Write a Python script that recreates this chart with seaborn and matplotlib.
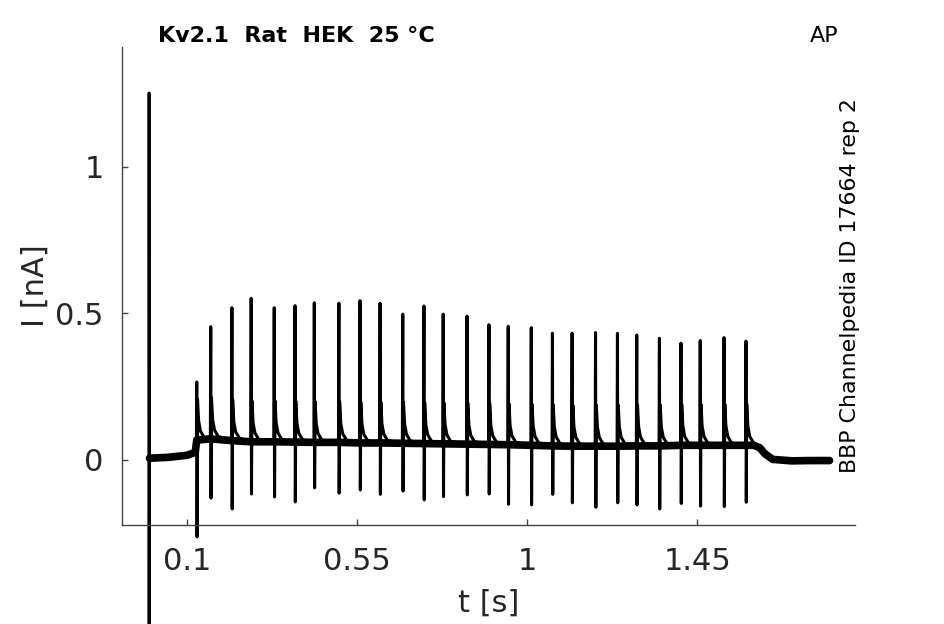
import numpy as np
import pandas as pd
import seaborn as sns
import matplotlib.pyplot as plt

# values (t in s, I in nA)
spike_t = [0.126, 0.163, 0.219, 0.270, 0.331, 0.386, 0.437, 0.502, 0.558,
           0.611, 0.671, 0.727, 0.778, 0.841, 0.899, 0.950, 1.011, 1.067,
           1.119, 1.181, 1.239, 1.290, 1.350, 1.407, 1.458, 1.521, 1.579]
spike_peak = [0.266, 0.454, 0.519, 0.551, 0.519, 0.526, 0.536, 0.534, 0.543,
              0.534, 0.497, 0.525, 0.497, 0.490, 0.461, 0.456, 0.451, 0.432,
              0.432, 0.434, 0.432, 0.426, 0.415, 0.398, 0.407, 0.417, 0.405]
spike_trough = [-0.262, -0.130, -0.167, -0.116, -0.126, -0.143, -0.095, -0.113, -0.102,
                -0.117, -0.106, -0.136, -0.125, -0.119, -0.116, -0.151, -0.153, -0.117,
                -0.146, -0.161, -0.146, -0.153, -0.167, -0.148, -0.157, -0.159, -0.144]
spike_level = [0.068, 0.072, 0.066, 0.062, 0.062, 0.061, 0.060, 0.060, 0.058,
               0.058, 0.057, 0.056, 0.055, 0.054, 0.053, 0.052, 0.050, 0.048,
               0.047, 0.047, 0.047, 0.048, 0.048, 0.050, 0.050, 0.050, 0.050]

# decay after each spike: time after spike, height above the level
fin_dt = [0.002, 0.005, 0.010, 0.020]
fin_di = [0.140, 0.065, 0.030, 0.008]

# stimulus artifact at t = 0
artifact_t = [0.0, 0.0005]
artifact_i = [1.25, -0.65]

pre_t = [0.001, 0.05, 0.10, 0.122]
pre_i = [0.006, 0.009, 0.016, 0.026]
post_t = [1.600, 1.615, 1.630, 1.650, 1.700, 1.750, 1.800]
post_i = [0.050, 0.042, 0.020, 0.002, -0.003, -0.002, -0.002]

xticks = [0.1, 0.55, 1, 1.45]
xtick_labels = ["0.1", "0.55", "1", "1.45"]
yticks = [0, 0.5, 1]
ytick_labels = ["0", "0.5", "1"]

# assemble the trace and the noisy baseline band from the read values
tt = list(artifact_t) + list(pre_t)
ii = list(artifact_i) + list(pre_i)
for k in range(len(spike_t)):
    tt += [spike_t[k] - 0.001, spike_t[k], spike_t[k] + 0.0008]
    ii += [spike_level[k], spike_peak[k], spike_trough[k]]
    for dt, di in zip(fin_dt, fin_di):
        tt.append(spike_t[k] + dt)
        ii.append(spike_level[k] + di)
tt += post_t
ii += post_i
trace = pd.DataFrame({"t": tt, "I": ii})
band = pd.DataFrame({"t": pre_t + spike_t + post_t,
                     "I": pre_i + spike_level + post_i})

sns.set_theme(style="ticks")
fig = plt.figure(figsize=(9.45, 6.24), dpi=100)
ax = fig.add_axes([0.129, 0.1587, 0.776, 0.766])

sns.lineplot(data=band, x="t", y="I", sort=False, estimator=None,
             color="black", linewidth=5.5, ax=ax)
sns.lineplot(data=trace, x="t", y="I", sort=False, estimator=None,
             color="black", linewidth=2.2, ax=ax)
ax.plot(artifact_t, artifact_i, color="black", linewidth=2.4)
for ln in ax.lines:
    ln.set_clip_on(False)

ax.set_xlim(-0.072, 1.868)
ax.set_ylim(-0.2216, 1.408)
ax.set_xticks(xticks, xtick_labels)
ax.set_yticks(yticks, ytick_labels)
ax.tick_params(direction="in", length=4, width=1, color="#444444",
               labelsize=22, labelcolor="#262626")
ax.tick_params(axis="x", pad=16)
ax.tick_params(axis="y", pad=13)
for s in ["left", "bottom"]:
    ax.spines[s].set_color("#444444")
    ax.spines[s].set_linewidth(1)
sns.despine(ax=ax)

ax.set_xlabel("t [s]", fontsize=22, color="#262626", labelpad=9)
ax.set_ylabel("I [nA]", fontsize=22, color="#262626", labelpad=4)

ax.text(0.049, 1.003, "Kv2.1  Rat  HEK  25 °C", transform=ax.transAxes,
        fontsize=16, fontweight="bold", color="black", ha="left", va="bottom")
ax.text(0.977, 1.003, "AP", transform=ax.transAxes,
        fontsize=16, color="black", ha="right", va="bottom")
ax.text(0.993, 0.109, "BBP Channelpedia ID 17664 rep 2", transform=ax.transAxes,
        fontsize=15.9, color="black", rotation=90, ha="center", va="bottom")

fig.savefig("out.png", dpi=100)
